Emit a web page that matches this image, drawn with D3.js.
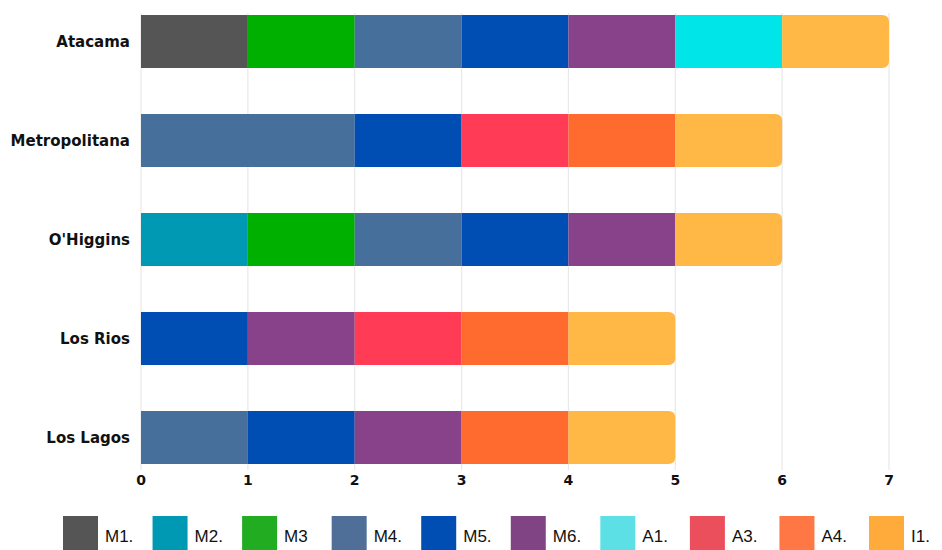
<!DOCTYPE html>
<html>
<head>
<meta charset="utf-8">
<script src="https://cdn.jsdelivr.net/npm/d3@7/dist/d3.min.js"></script>
<style>
  body { margin: 0; background: #fff; }
  svg { display: block; }
  .regionLbl { font-family: "DejaVu Sans", sans-serif; font-weight: 700; font-size: 15px; fill: #111; }
  .tickLbl { font-family: "DejaVu Sans", sans-serif; font-weight: 700; font-size: 14px; fill: #111; }
  .legTxt { font-family: "Liberation Sans Narrow", "Liberation Sans", sans-serif; font-size: 17px; fill: #111; }
</style>
</head>
<body>
<div id="chart"></div>
<script>
var regions = ["Atacama", "Metropolitana", "O'Higgins", "Los Rios", "Los Lagos"];
var seriesNames = ["M1.", "M2.", "M3", "M4.", "M5.", "M6.", "A1.", "A3.", "A4.", "I1."];
var seriesColors = ["#555555", "#0099b4", "#00b000", "#466f9c", "#004db3", "#87428a", "#00e5e8", "#ff3b55", "#ff6b2e", "#ffb845"];
var legendColors = ["#555555", "#0099b4", "#22ac22", "#4f6f98", "#004db3", "#804484", "#5ce0e6", "#ec4f5c", "#ff7744", "#ffab3c"];

var m1 = [1, 0, 0, 0, 0];
var m2 = [0, 0, 1, 0, 0];
var m3 = [1, 0, 1, 0, 0];
var m4 = [1, 2, 1, 0, 1];
var m5 = [1, 1, 1, 1, 1];
var m6 = [1, 0, 1, 1, 1];
var a1 = [1, 0, 0, 0, 0];
var a3 = [0, 1, 0, 1, 0];
var a4 = [0, 1, 0, 1, 1];
var i1 = [1, 1, 1, 1, 1];
var xTicks = [0, 1, 2, 3, 4, 5, 6, 7];

(function () {
  'use strict'

  var seriesVals = [m1, m2, m3, m4, m5, m6, a1, a3, a4, i1];
  var rows = regions.map(function (r, i) {
    var o = { region: r };
    seriesNames.forEach(function (s, j) { o[s] = seriesVals[j][i]; });
    return o;
  });

  var W = 942, H = 550;
  var svg = d3.select("#chart").append("svg").attr("width", W).attr("height", H);

  var x = d3.scaleLinear().domain([0, 7]).range([141, 889]);
  var y = d3.scaleBand().domain(regions).range([15, 464]).paddingInner(0.465).paddingOuter(0);

  // gridlines
  svg.append("g").selectAll("line")
    .data(xTicks)
    .enter().append("line")
    .attr("x1", function (d) { return x(d); })
    .attr("x2", function (d) { return x(d); })
    .attr("y1", 13).attr("y2", 470)
    .attr("stroke", "#e8e8e8").attr("stroke-width", 1.2);

  var stack = d3.stack().keys(seriesNames)(rows);

  // last non-zero segment in each row gets rounded right end
  var lastKey = {};
  rows.forEach(function (r) {
    seriesNames.forEach(function (s) { if (r[s] > 0) lastKey[r.region] = s; });
  });

  function segPath(x0, y0, x1, h, rad) {
    var w = x1 - x0;
    if (!rad) return "M" + x0 + "," + y0 + "h" + w + "v" + h + "h" + (-w) + "Z";
    return "M" + x0 + "," + y0 + "H" + (x1 - rad) +
      "Q" + x1 + "," + y0 + " " + x1 + "," + (y0 + rad) +
      "V" + (y0 + h - rad) +
      "Q" + x1 + "," + (y0 + h) + " " + (x1 - rad) + "," + (y0 + h) +
      "H" + x0 + "Z";
  }

  stack.forEach(function (layer, j) {
    svg.append("g").selectAll("path")
      .data(layer.filter(function (d) { return d[1] - d[0] > 0; }))
      .enter().append("path")
      .attr("fill", seriesColors[j])
      .attr("d", function (d) {
        var isLast = lastKey[d.data.region] === layer.key;
        return segPath(x(d[0]), y(d.data.region), x(d[1]), y.bandwidth(), isLast ? 7 : 0);
      });
  });

  // region labels
  svg.append("g").selectAll("text")
    .data(regions)
    .enter().append("text")
    .attr("class", "regionLbl")
    .attr("x", 130)
    .attr("y", function (d) { return y(d) + y.bandwidth() / 2; })
    .attr("dy", "0.35em")
    .attr("text-anchor", "end")
    .text(function (d) { return d; });

  // x tick labels
  svg.append("g").selectAll("text")
    .data(xTicks)
    .enter().append("text")
    .attr("class", "tickLbl")
    .attr("x", function (d) { return x(d); })
    .attr("y", 485)
    .attr("text-anchor", "middle")
    .text(function (d) { return d; });

  // legend (cut off at the bottom like the original)
  var lx = d3.scalePoint().domain(seriesNames).range([63, 869]);
  var leg = svg.append("g").selectAll("g")
    .data(seriesNames)
    .enter().append("g")
    .attr("transform", function (d) { return "translate(" + lx(d) + ",516)"; });
  leg.append("rect")
    .attr("width", 35).attr("height", 40)
    .attr("fill", function (d, i) { return legendColors[i]; });
  leg.append("text")
    .attr("class", "legTxt")
    .attr("x", 42).attr("y", 26)
    .text(function (d) { return d; });
})()
</script>
</body>
</html>
